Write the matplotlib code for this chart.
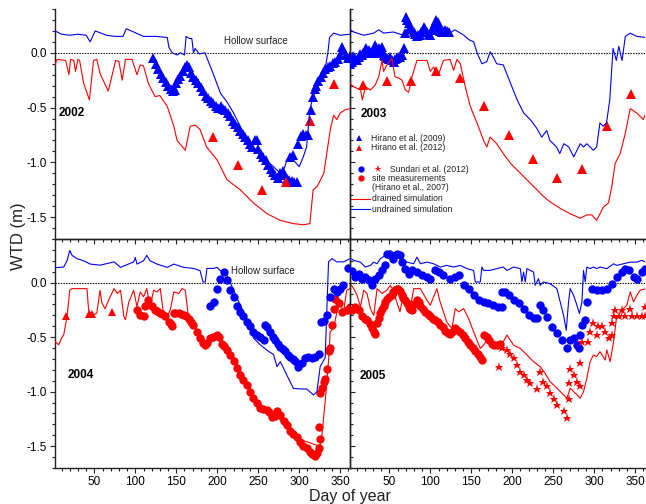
import numpy as np
import matplotlib
matplotlib.use("Agg")
import matplotlib.pyplot as plt
from matplotlib.ticker import MultipleLocator, FormatStrFormatter

plt.rcParams["font.family"] = ["Liberation Sans", "DejaVu Sans"]
plt.rcParams["axes.unicode_minus"] = False

BLUE = "#0000ff"
RED = "#ff0000"

# ---- 2002 ---------------------------------------------------------------------------
undr_2002 = [(2, 0.20), (10, 0.17), (20, 0.16), (30, 0.17), (40, 0.16), (45, 0.10), (51, 0.20),
             (58, 0.18), (65, 0.16), (75, 0.15), (85, 0.15), (89, 0.22), (95, 0.20), (110, 0.15),
             (125, 0.15), (139, 0.14), (141, 0.05), (145, 0.00), (151, -0.02), (155, 0.00),
             (160, -0.02), (162, 0.15), (166, 0.13), (169, 0.13), (171, 0.00), (173, 0.04),
             (178, -0.01), (185, 0.00), (195, -0.19), (204, -0.37), (212, -0.45), (220, -0.55),
             (232, -0.73), (244, -0.86), (260, -0.98), (270, -1.05), (277, -1.10), (282, -1.05),
             (285, -0.98), (293, -0.98), (300, -1.04), (305, -0.95), (309, -0.86), (313, -0.52),
             (317, -0.40), (322, -0.32), (326, -0.25), (332, -0.13), (335, 0.00), (337, 0.14),
             (342, 0.18), (350, 0.16), (362, 0.17)]
dr_2002 = [(2, -0.11), (4.5, -0.06), (15, -0.07), (19, -0.20), (21, -0.06), (25, -0.07), (27, -0.17),
           (30, -0.06), (32, -0.07), (37, -0.28), (44, -0.43), (49, -0.07), (53, -0.06), (57, -0.19),
           (67, -0.35), (76, -0.07), (80, -0.08), (84, -0.25), (88, -0.06), (96, -0.06), (102, -0.20),
           (106, -0.11), (110, -0.12), (116, -0.28), (124, -0.40), (130, -0.39), (139, -0.49),
           (147, -0.67), (151, -0.80), (161, -0.89), (167, -0.67), (173, -0.66), (179, -0.70),
           (187, -0.86), (200, -0.98), (212, -1.16), (228, -1.25), (244, -1.37), (261, -1.47),
           (277, -1.53), (293, -1.56), (305, -1.57), (313, -1.56), (317, -1.25), (322, -1.22),
           (330, -1.10), (338, -0.70), (342, -0.57), (346, -0.61), (350, -0.55), (356, -0.52),
           (362, -0.51)]
hir09_2002 = [(122, -0.05), (125, -0.10), (128, -0.15), (131, -0.19), (134, -0.23), (137, -0.27),
              (140, -0.30), (143, -0.33), (146, -0.35), (148, -0.34), (150, -0.28), (152, -0.24),
              (155, -0.21), (158, -0.17), (161, -0.13), (163, -0.11), (165, -0.13), (168, -0.18),
              (171, -0.22), (174, -0.25), (177, -0.28), (180, -0.31), (183, -0.35), (186, -0.39),
              (189, -0.41), (192, -0.44), (195, -0.46), (198, -0.49), (201, -0.50), (204, -0.49),
              (207, -0.51), (210, -0.52), (213, -0.55), (216, -0.58), (219, -0.62), (222, -0.65),
              (225, -0.68), (228, -0.71), (231, -0.74), (234, -0.77), (237, -0.80), (240, -0.83),
              (243, -0.86), (246, -0.80), (248, -0.80), (250, -0.88), (253, -0.92), (256, -0.95),
              (259, -0.98), (262, -1.02), (265, -1.06), (268, -1.09), (271, -1.12), (274, -1.14),
              (277, -1.10), (280, -1.08), (282, -1.12), (285, -1.15), (288, -1.16), (291, -1.17),
              (294, -1.18), (297, -1.18), (289, -0.95), (292, -0.93), (299, -0.83), (302, -0.76),
              (305, -0.74), (308, -0.75), (311, -0.75), (313, -0.62), (315, -0.52), (317, -0.40),
              (319, -0.33), (321, -0.30), (323, -0.26), (326, -0.22), (329, -0.18), (332, -0.15),
              (335, -0.13), (338, -0.12), (341, -0.09), (344, -0.08), (347, -0.06), (350, -0.02),
              (352, 0.05), (354, 0.03), (357, -0.02), (360, -0.05), (362, -0.03)]
hir12_2002 = [(195, -0.77), (225, -1.02), (254, -1.25), (284, -1.18), (313, -0.62), (343, -0.285)]

# ---- 2003 ---------------------------------------------------------------------------
undr_2003 = [(2, 0.21), (6.5, 0.19), (19, 0.16), (31, 0.18), (37, 0.21), (43, 0.18), (55, 0.19),
             (67, 0.16), (80, 0.18), (92, 0.18), (104, 0.19), (116, 0.18), (124, 0.18), (130, 0.21),
             (141, 0.16), (147, 0.12), (153, 0.10), (157, 0.00), (163, -0.10), (169, -0.08),
             (173, 0.01), (177, -0.04), (181, -0.10), (189, -0.11), (198, -0.28), (206, -0.43),
             (214, -0.55), (222, -0.61), (230, -0.69), (236, -0.77), (242, -0.71), (246, -0.80),
             (254, -0.86), (258, -0.92), (263, -0.83), (269, -0.86), (275, -0.95), (283, -0.83),
             (287, -0.86), (291, -0.83), (299, -0.89), (303, -0.86), (307, -0.64), (311, -0.67),
             (315, -0.64), (319, -0.43), (323, 0.04), (327, -0.07), (330, 0.06), (334, -0.07),
             (338, 0.15), (344, 0.18), (352, 0.15), (363, 0.14)]
dr_2003 = [(2, -0.28), (6.5, -0.31), (15, -0.34), (17, -0.43), (21, -0.31), (27, -0.34), (33, -0.29),
           (37, -0.22), (41, -0.07), (43, -0.17), (47, -0.11), (53, -0.05), (57, -0.22), (61, -0.23),
           (65.5, -0.25), (69.5, -0.34), (73.6, -0.36), (77.6, -0.22), (83.7, -0.07), (90, -0.07),
           (96, -0.07), (100, -0.17), (104, -0.13), (110, -0.20), (116, -0.07), (124, -0.06),
           (128.5, -0.16), (132.5, -0.06), (136.6, -0.10), (142.7, -0.31), (148.8, -0.49),
           (157, -0.64), (165, -0.80), (169, -0.86), (173, -0.77), (181, -0.83), (189, -0.92),
           (198, -1.01), (206, -1.07), (214, -1.13), (226, -1.22), (238, -1.31), (246, -1.36),
           (258.5, -1.42), (270.7, -1.47), (283, -1.51), (291, -1.48), (297, -1.48), (303, -1.53),
           (311, -1.41), (317.5, -1.37), (321.5, -1.22), (325.6, -1.01), (331.7, -0.92),
           (337.8, -0.74), (344, -0.51), (352, -0.55), (360, -0.61), (363, -0.55)]
hir09_2003 = [(2.5, -0.10), (4.5, -0.08), (6, -0.03), (8.5, -0.05), (10, -0.07), (12.6, -0.035),
              (14, -0.01), (16.7, -0.02), (18, 0.00), (20.7, 0.025), (22, 0.04), (24.8, 0.025),
              (26, 0.00), (28.9, -0.005), (30, 0.02), (32.9, 0.07), (34, 0.05), (36, 0.03), (37, 0.04),
              (39, 0.00), (41, 0.056), (43, -0.02), (45, -0.03), (47.2, -0.05), (49, -0.06),
              (51.2, -0.035), (53, -0.07), (55.3, -0.08), (57, -0.06), (59.4, -0.05), (61, -0.04),
              (63.4, -0.035), (65, -0.02), (67.5, 0.04), (69.5, 0.18), (70.7, 0.33), (72, 0.30),
              (73.6, 0.27), (75.6, 0.24), (77, 0.22), (79.7, 0.19), (81, 0.17), (83.7, 0.15),
              (85, 0.16), (87.8, 0.16), (89, 0.19), (91.9, 0.24), (93, 0.22), (96, 0.19), (98, 0.17),
              (100, 0.16), (102, 0.21), (104, 0.25), (106, 0.27), (107.3, 0.30), (109, 0.28),
              (110, 0.24), (112, 0.20), (114.2, 0.19), (116, 0.20), (118.3, 0.21), (120, 0.20),
              (122.4, 0.19)]
hir12_2003 = [(18, -0.29), (47, -0.26), (77, -0.26), (106.5, -0.17), (136.6, -0.23), (166, -0.49),
              (196, -0.75), (225.6, -0.97), (255, -1.14), (285, -1.06), (315.5, -0.67), (345, -0.38)]

# ---- 2004 ---------------------------------------------------------------------------
undr_2004 = [(2, 0.137), (12.6, 0.143), (16.7, 0.20), (20, 0.295), (22.8, 0.25), (28.9, 0.22),
             (37, 0.20), (45, 0.17), (57, 0.16), (74, 0.19), (82, 0.14), (98, 0.19), (100, 0.23),
             (102, 0.17), (110, 0.20), (114, 0.25), (118, 0.20), (126.5, 0.17), (139, 0.14),
             (147, 0.17), (159, 0.14), (171, 0.13), (179, 0.11), (182.6, 0.006), (185.4, 0.006),
             (187.4, 0.13), (195.6, 0.13), (199.6, 0.14), (203.7, 0.11), (211.8, 0.067), (220, -0.07),
             (228, -0.207), (236.2, -0.33), (244.3, -0.51), (252.5, -0.57), (260.6, -0.62),
             (268.7, -0.66), (272.8, -0.77), (277, -0.725), (285, -0.85), (293, -0.97),
             (301, -0.975), (309, -0.975), (317.5, -1.03), (321.6, -1.00), (325.6, -0.77),
             (331.7, -0.69), (335.8, 0.19), (340, 0.22), (346, 0.19), (354, 0.19), (362, 0.22)]
dr_2004 = [(2, -0.54), (6.5, -0.57), (10.6, -0.50), (12.6, -0.48), (16.7, -0.31), (20, -0.07),
           (22.8, -0.055), (41, -0.055), (43, -0.25), (47, -0.30), (53, -0.28), (57, -0.07),
           (59, -0.18), (63, -0.24), (67.5, -0.16), (74, -0.055), (78, -0.10), (82, -0.07),
           (86, -0.31), (88, -0.34), (92, -0.18), (98, -0.07), (102, -0.22), (106, -0.085),
           (110, -0.13), (114, -0.055), (118, -0.22), (122.4, -0.07), (126.5, -0.085),
           (130.5, -0.055), (134.6, -0.30), (139, -0.31), (142.7, -0.25), (147, -0.085),
           (153, -0.10), (157, -0.055), (161, -0.07), (165, -0.33), (171, -0.37), (179, -0.51),
           (187, -0.57), (200, -0.51), (208, -0.54), (220, -0.69), (236, -0.91), (248, -1.09),
           (261, -1.18), (269, -1.18), (277, -1.26), (285, -1.33), (301, -1.44), (313.5, -1.47),
           (321, -1.49), (325.6, -1.49), (327.7, -1.40), (331.7, -1.09), (335.8, -0.72),
           (337.8, -0.45), (342, -0.42), (346, -0.27), (350, -0.18), (354, -0.27), (358, -0.07),
           (362, -0.055)]
site_2004 = [(102, -0.25), (106, -0.30), (110, -0.31), (112, -0.21), (116, -0.16), (120, -0.21),
             (124, -0.25), (127, -0.26), (130.5, -0.28), (133, -0.29), (136.6, -0.31), (140.7, -0.36),
             (143, -0.38), (144.8, -0.40), (146.8, -0.28), (149, -0.28), (153, -0.28), (156, -0.29),
             (159, -0.30), (162, -0.31), (165, -0.33), (168, -0.36), (171, -0.39), (175, -0.45),
             (179, -0.51), (183, -0.55), (185, -0.57), (188, -0.55), (191.5, -0.51), (195, -0.50),
             (199.6, -0.48), (202, -0.50), (205.7, -0.56), (208, -0.58), (211.8, -0.62), (215, -0.66),
             (220, -0.72), (224, -0.78), (228, -0.85), (232, -0.89), (236, -0.94), (240, -1.00),
             (244, -1.06), (248, -1.10), (252.5, -1.15), (256, -1.16), (260.6, -1.17), (263, -1.19),
             (266.7, -1.23), (270, -1.22), (272.8, -1.18), (276, -1.21), (281, -1.27), (285, -1.31),
             (289, -1.36), (293, -1.39), (297, -1.42), (301, -1.46), (305, -1.50), (309, -1.52),
             (313.5, -1.55), (316, -1.57), (319.5, -1.59), (321.6, -1.56), (323.6, -1.52),
             (324.8, -1.43), (323.6, -1.32), (325.6, -1.01), (327.7, -0.97), (329.7, -0.91),
             (331.7, -0.88), (333.8, -0.79), (335.8, -0.63), (337.8, -0.60), (339.9, -0.39),
             (342, -0.24), (344, -0.15), (348, -0.19), (352, -0.27), (358, -0.25), (362, -0.22)]
sund_2004 = [(191.5, -0.21), (195.6, -0.18), (199.6, -0.055), (203.7, 0.036), (207.8, 0.097),
             (211.8, 0.02), (215.9, -0.07), (220, -0.13), (224, -0.21), (228, -0.27), (232, -0.31),
             (236, -0.36), (240, -0.40), (244, -0.45), (248, -0.48), (252.5, -0.50), (256.5, -0.53),
             (258.6, -0.39), (260.6, -0.41), (264.7, -0.45), (268, -0.50), (270.8, -0.53),
             (274, -0.56), (276.9, -0.59), (280, -0.61), (283, -0.63), (286, -0.66), (289, -0.68),
             (292, -0.70), (295, -0.72), (299, -0.77), (303, -0.74), (307, -0.69), (311, -0.68),
             (315.5, -0.69), (319.5, -0.68), (323.6, -0.65), (326.5, -0.36), (329.7, -0.35),
             (333.8, -0.30), (337.8, -0.13), (342, -0.055), (346, -0.085), (350, -0.055),
             (354, -0.025), (360, 0.13)]
hir12_2004 = [(16, -0.31), (44, -0.29), (47, -0.29), (71, -0.27)]

# ---- 2005 ---------------------------------------------------------------------------
undr_2005 = [(3.7, 0.219), (6.5, 0.204), (14.6, 0.188), (20.7, 0.143), (26.8, 0.158), (31, 0.188),
             (35, 0.173), (39, 0.219), (45, 0.249), (51, 0.295), (57, 0.265), (63, 0.219),
             (71.5, 0.188), (79.7, 0.173), (83.7, 0.234), (87.8, 0.173), (96, 0.188), (104, 0.173),
             (112, 0.143), (120, 0.158), (128.5, 0.143), (136.6, 0.158), (144.7, 0.128),
             (152.8, 0.112), (154.9, 0.006), (161, 0.006), (163, 0.143), (165, 0.112), (173, 0.112),
             (181, 0.128), (189, 0.143), (193.5, 0.112), (201.6, 0.143), (209.8, 0.128),
             (211.8, 0.006), (213.8, 0.097), (215.9, 0.006), (217.9, 0.128), (226, 0.097),
             (228, -0.025), (232, 0.036), (234, -0.025), (238, 0.006), (246, -0.009), (254.5, -0.055),
             (258.5, -0.177), (262.6, -0.30), (265.9, -0.436), (268.7, -0.177), (270.7, -0.055),
             (274.8, -0.116), (278.9, -0.207), (282, -0.283), (285, -0.177), (287, 0.112),
             (289, 0.006), (291, 0.143), (295, 0.128), (299, 0.143), (303, 0.128), (307, 0.143),
             (315.4, 0.128), (323.6, 0.173), (327.6, 0.158), (335.8, 0.173), (344, 0.188),
             (352, 0.188), (358, 0.204), (363, 0.188)]
dr_2005 = [(3.7, -0.025), (6.5, -0.055), (10.6, -0.116), (14.6, -0.222), (18.7, -0.07), (22.8, -0.10),
           (26.8, -0.238), (31, -0.30), (35, -0.055), (41, -0.10), (47, -0.07), (51, -0.025),
           (55, -0.07), (59, -0.177), (63, -0.268), (67.5, -0.085), (71.5, -0.177), (75.6, -0.238),
           (79.7, -0.055), (87.8, -0.055), (96, -0.162), (100, -0.207), (108, -0.055), (112, -0.177),
           (116, -0.268), (120, -0.36), (126.4, -0.42), (130.5, -0.238), (134.6, -0.268),
           (140.6, -0.238), (146.7, -0.329), (152.8, -0.45), (161, -0.603), (165, -0.573),
           (169, -0.527), (175, -0.542), (181, -0.603), (189, -0.542), (193.5, -0.481),
           (201.6, -0.573), (209.8, -0.603), (218, -0.664), (226, -0.725), (234, -0.77),
           (240, -0.831), (246, -0.907), (254.5, -0.968), (262.6, -1.029), (266.7, -1.06),
           (270.7, -0.968), (274.8, -0.999), (279, -1.029), (283, -1.06), (287, -0.999),
           (291, -0.877), (295, -0.725), (299, -0.664), (303, -0.679), (307, -0.633),
           (313.4, -0.71), (315.4, -0.618), (319.5, -0.725), (323.6, -0.542), (327.6, -0.299),
           (331.7, -0.329), (335.8, -0.238), (339.8, -0.207), (344, -0.085), (348, -0.177),
           (352, -0.116), (356, -0.07), (363, -0.055)]
site_2005 = [(4.5, -0.25), (8.5, -0.22), (12.6, -0.25), (16.7, -0.31), (19.7, -0.33), (22.8, -0.34),
             (25.8, -0.38), (28.9, -0.42), (31, -0.45), (32.9, -0.47), (35, -0.37), (37, -0.32),
             (39, -0.28), (41, -0.24), (43, -0.21), (45, -0.18), (47, -0.15), (50, -0.13),
             (53, -0.116), (55, -0.09), (57, -0.07), (59, -0.06), (61, -0.055), (63, -0.08),
             (65, -0.116), (67, -0.14), (69.5, -0.16), (71.5, -0.19), (73.6, -0.22), (75.6, -0.24),
             (77.6, -0.25), (80, -0.20), (83.7, -0.16), (86, -0.18), (87.8, -0.21), (90.8, -0.24),
             (93.9, -0.27), (97, -0.29), (100, -0.31), (103, -0.33), (106, -0.34), (109, -0.36),
             (112, -0.39), (115, -0.41), (118, -0.44), (121, -0.46), (124, -0.47), (127, -0.45),
             (130.5, -0.42), (133, -0.43), (136.6, -0.45), (139.6, -0.48), (142.7, -0.51),
             (145.7, -0.54), (148.8, -0.57), (151.8, -0.60), (154.9, -0.63), (158, -0.65),
             (161, -0.68), (163, -0.71), (165, -0.48), (169, -0.50), (172, -0.53), (175, -0.56),
             (178, -0.57), (181, -0.57), (185, -0.56)]
sund_2005 = [(4.5, 0.11), (8.5, 0.05), (12.6, 0.08), (16.7, 0.036), (20.7, 0.05), (24.8, 0.02),
             (28.9, -0.025), (32.9, 0.036), (37, 0.067), (41, 0.112), (45, 0.158), (47, 0.265),
             (51, 0.25), (55, 0.219), (59, 0.265), (63, 0.249), (65.4, 0.188), (69.5, 0.128),
             (73.6, 0.082), (77.6, 0.112), (83.7, 0.097), (89.8, 0.067), (95.9, 0.05), (100, 0.036),
             (106, 0.112), (110, 0.097), (116, 0.067), (124, 0.036), (130.5, 0.05), (134.6, 0.067),
             (140.6, -0.025), (146.7, -0.055), (152.8, -0.116), (158.9, -0.16), (165, -0.177),
             (171, -0.19), (177, -0.207), (183, -0.22), (187, -0.22), (187.4, -0.085),
             (191.5, -0.09), (195.5, -0.116), (201.6, -0.16), (207.7, -0.19), (213.8, -0.238),
             (219.9, -0.30), (226, -0.329), (230, -0.329), (234, -0.207), (238, -0.253),
             (242.3, -0.314), (248.4, -0.405), (254.5, -0.466), (260.6, -0.527), (266.7, -0.60),
             (270.7, -0.527), (274.8, -0.512), (278.9, -0.573), (281, -0.60), (283, -0.48),
             (285, -0.39), (289, -0.344), (291, -0.177), (297, -0.055), (303, -0.07), (309, -0.07),
             (315.4, -0.055), (321.5, -0.01), (327.6, 0.05), (333.7, 0.097), (337.8, 0.128),
             (342, 0.112), (348, 0.05), (352, 0.036), (358, 0.097), (362, 0.128)]
star_2005 = [(184, -0.77), (187.4, -0.60), (193.5, -0.62), (197.6, -0.65), (201.6, -0.69),
             (205.7, -0.76), (209.8, -0.82), (213.8, -0.85), (217.9, -0.89), (221.9, -0.92),
             (230, -0.98), (234, -0.82), (238, -0.91), (242.3, -0.95), (246.3, -1.01), (250.4, -1.07),
             (254.5, -1.12), (262.6, -1.18), (266.7, -1.24), (268.7, -1.07), (268.7, -0.92),
             (270.7, -0.79), (274.8, -0.85), (278.9, -0.91), (282.9, -0.95), (282.9, -0.74),
             (285, -0.54), (293, -0.54), (295, -0.45), (299, -0.37), (303, -0.48), (305, -0.40),
             (309, -0.40), (313.4, -0.45), (317.5, -0.51), (321.5, -0.48), (321.5, -0.37),
             (323.6, -0.31), (325.6, -0.25), (329.7, -0.31), (333.7, -0.25), (337.8, -0.31),
             (344, -0.24), (346, -0.31), (352, -0.31), (358, -0.31), (362, -0.22), (362, -0.31)]


def xy(pairs):
    a = np.array(pairs, dtype=float)
    return a[:, 0], a[:, 1]


W, H = 646, 504
fig = plt.figure(figsize=(W / 100, H / 100), dpi=100)


def box(x0, y0, x1, y1):
    return [x0 / W, 1 - y1 / H, (x1 - x0) / W, (y1 - y0) / H]


ax02 = fig.add_axes(box(55, 9, 350, 239))
ax03 = fig.add_axes(box(350, 9, 645, 239))
ax04 = fig.add_axes(box(55, 239, 350, 468))
ax05 = fig.add_axes(box(350, 239, 645, 468))

for ax in (ax02, ax03, ax04, ax05):
    ax.set_xlim(2, 362)
    ax.set_ylim(-1.7, 0.4)
    ax.patch.set_alpha(0)
    for s in ax.spines.values():
        s.set_linewidth(1.0)
        s.set_color("#222222")
    ax.xaxis.set_major_locator(MultipleLocator(50))
    ax.xaxis.set_minor_locator(MultipleLocator(10))
    ax.yaxis.set_major_locator(MultipleLocator(0.5))
    ax.yaxis.set_minor_locator(MultipleLocator(0.1))
    ax.yaxis.set_major_formatter(FormatStrFormatter("%.1f"))
    ax.tick_params(which="major", length=3.5, width=0.8, labelsize=8.5, pad=2.5, color="#222222")
    ax.tick_params(which="minor", length=2, width=0.8, color="#222222")
    ax.tick_params(axis="both", which="both", direction="out")
    ax.axhline(0, color="black", lw=0.8, ls=(0, (1.2, 1.2)), zorder=1)

for ax in (ax02, ax03):
    ax.spines["top"].set_visible(False)
    ax.tick_params(axis="x", labelbottom=False)
for ax in (ax03, ax05):
    ax.spines["right"].set_visible(False)
    ax.tick_params(axis="y", which="both", direction="in", labelleft=False)

mk = dict(linestyle="none", markeredgewidth=0, zorder=3)

# 2002
ax02.plot(*xy(hir09_2002), marker="^", color=BLUE, markersize=6.5, **mk)
ax02.plot(*xy(hir12_2002), marker="^", color=RED, markersize=6.5, **mk)
ax02.plot(*xy(dr_2002), color=RED, lw=0.8, zorder=4)
ax02.plot(*xy(undr_2002), color=BLUE, lw=0.8, zorder=4)

# 2003
ax03.plot(*xy(hir09_2003), marker="^", color=BLUE, markersize=6.5, **mk)
ax03.plot(*xy(hir12_2003), marker="^", color=RED, markersize=6.5, **mk)
ax03.plot(*xy(dr_2003), color=RED, lw=0.8, zorder=4)
ax03.plot(*xy(undr_2003), color=BLUE, lw=0.8, zorder=4)

# 2004
ax04.plot(*xy(site_2004), marker="o", color=RED, markersize=6, **mk)
ax04.plot(*xy(sund_2004), marker="o", color=BLUE, markersize=6, **mk)
ax04.plot(*xy(hir12_2004), marker="^", color=RED, markersize=6, **mk)
ax04.plot(*xy(dr_2004), color=RED, lw=0.8, zorder=4)
ax04.plot(*xy(undr_2004), color=BLUE, lw=0.8, zorder=4)

# 2005
ax05.plot(*xy(site_2005), marker="o", color=RED, markersize=6, **mk)
ax05.plot(*xy(sund_2005), marker="o", color=BLUE, markersize=6, **mk)
ax05.plot(*xy(star_2005), marker="*", color=RED, markersize=6.5, **mk)
ax05.plot(*xy(dr_2005), color=RED, lw=0.8, zorder=4)
ax05.plot(*xy(undr_2005), color=BLUE, lw=0.8, zorder=4)

# year tags and hollow-surface notes
for ax, yr, x, y in ((ax02, "2002", 6, -0.55), (ax03, "2003", 14.6, -0.56),
                     (ax04, "2004", 17, -0.85), (ax05, "2005", 13.4, -0.86)):
    ax.text(x, y, yr, fontsize=8.5, fontweight="bold", ha="left", va="center", zorder=5)
ax02.text(247.6, 0.108, "Hollow surface", fontsize=7, ha="center", va="center", color="#222222")
ax04.text(256, 0.106, "Hollow surface", fontsize=7, ha="center", va="center", color="#222222")

# legend, drawn by hand so the Sundari entry can carry both symbols
T = ax03.transAxes
lfs = 6.2
ax03.plot([0.031], [0.439], marker="^", color=BLUE, markersize=5, transform=T, clip_on=False, **mk)
ax03.text(0.071, 0.439, "Hirano et al. (2009)", transform=T, fontsize=lfs, va="center", color="#222222")
ax03.plot([0.031], [0.396], marker="^", color=RED, markersize=5, transform=T, clip_on=False, **mk)
ax03.text(0.071, 0.396, "Hirano et al. (2012)", transform=T, fontsize=lfs, va="center", color="#222222")
ax03.plot([0.036], [0.304], marker="o", color=BLUE, markersize=4.5, transform=T, clip_on=False, **mk)
ax03.plot([0.095], [0.304], marker="*", color=RED, markersize=5.5, transform=T, clip_on=False, **mk)
ax03.text(0.136, 0.304, "Sundari et al. (2012)", transform=T, fontsize=lfs, va="center", color="#222222")
ax03.plot([0.036], [0.265], marker="o", color=RED, markersize=4.5, transform=T, clip_on=False, **mk)
ax03.text(0.074, 0.265, "site measurements", transform=T, fontsize=lfs, va="center", color="#222222")
ax03.text(0.074, 0.222, "(Hirano et al., 2007)", transform=T, fontsize=lfs, va="center", color="#222222")
ax03.plot([0.0, 0.068], [0.174, 0.174], color=RED, lw=0.8, transform=T)
ax03.text(0.074, 0.174, "drained simulation", transform=T, fontsize=lfs, va="center", color="#222222")
ax03.plot([0.0, 0.068], [0.130, 0.130], color=BLUE, lw=0.8, transform=T)
ax03.text(0.074, 0.130, "undrained simulation", transform=T, fontsize=lfs, va="center", color="#222222")

fig.text(18 / W, 1 - 236 / H, "WTD (m)", rotation=90, fontsize=12, ha="center", va="center",
         color="#222222")
fig.text(350 / W, 1 - 496 / H, "Day of year", fontsize=11.5, ha="center", va="center", color="#222222")

fig.savefig("out.png", dpi=100)
